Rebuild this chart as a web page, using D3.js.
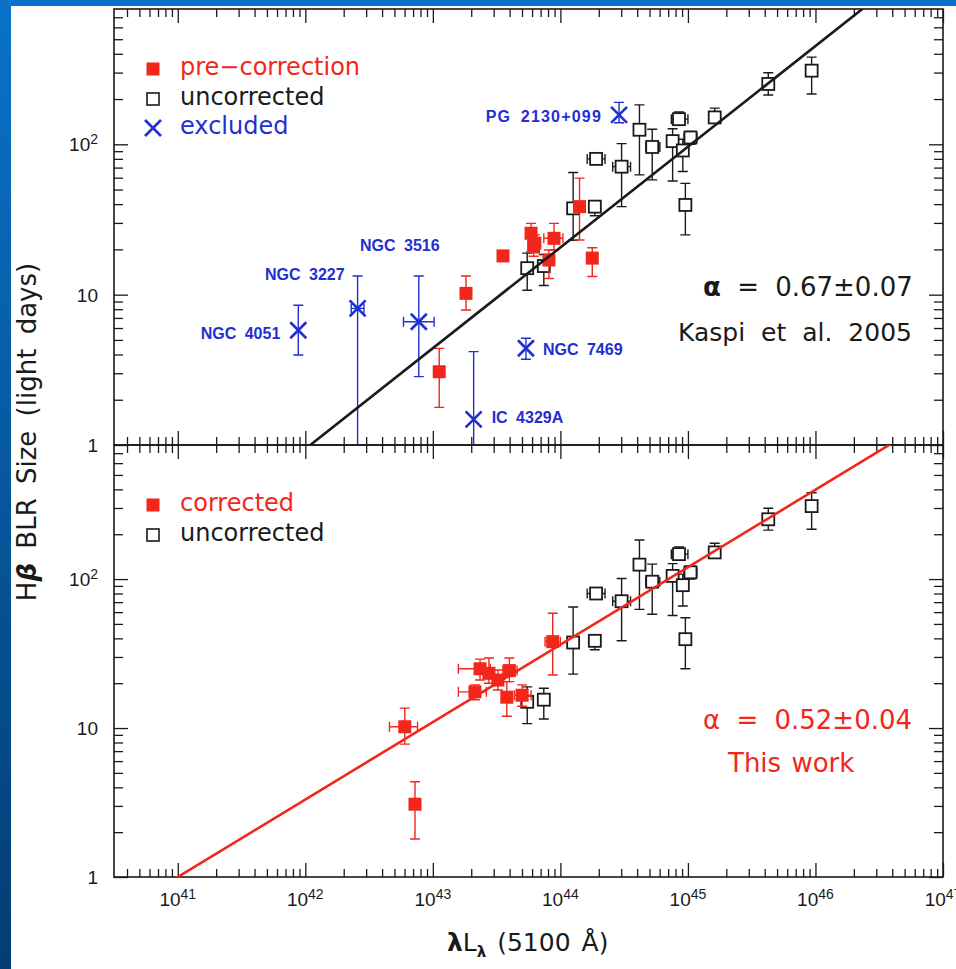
<!DOCTYPE html>
<html>
<head>
<meta charset="utf-8">
<script src="https://cdn.jsdelivr.net/npm/d3@7"></script>
<style>
  body { margin: 0; background: #fff; }
  svg text { font-family: "DejaVu Sans", sans-serif; }
</style>
</head>
<body>
<div id="chart"></div>
<script>
// rows: [log10 lambda L, R (light days), R low, R high, log L low, log L high]
const uncorrected = [
    [43.74, 15.0, 10.7, 18.9],
    [43.87, 15.5, 11.5, 18.5, 43.83, 43.91],
    [44.10, 37.5, 23.0, 65.0, 44.06, 44.13],
    [44.27, 38.5, 33.5, 41.0],
    [44.28, 80.0, 75.0, 85.0, 44.21, 44.35],
    [44.48, 71.0, 38.5, 101.0, 44.41, 44.55],
    [44.62, 125.0, 62.6, 183.0],
    [44.72, 96.0, 58.0, 126.0, 44.67, 44.78],
    [44.88, 105.0, 57.0, 127.0],
    [44.93, 147.0, 134.0, 164.0, 44.87, 45.00],
    [45.02, 111.0, 100.0, 122.0, 44.97, 45.07],
    [44.96, 91.0, 66.0, 108.0],
    [44.98, 39.5, 25.0, 55.0],
    [45.21, 151.0, 138.0, 174.0],
    [45.63, 252.0, 213.0, 299.0],
    [45.97, 309.0, 216.0, 380.0]
];

const preCorrection = [
    [43.05, 3.07, 1.78, 4.39],
    [43.26, 10.2, 7.9, 13.3],
    [43.55, 18.1, 17.0, 19.3],
    [43.77, 25.6, 19.3, 29.8],
    [43.80, 22.0, 19.0, 25.0],
    [43.79, 21.0, 18.0, 24.0],
    [43.95, 23.7, 19.8, 29.8, 43.87, 44.02],
    [43.91, 17.0, 12.8, 19.8],
    [44.15, 38.5, 23.1, 59.6],
    [44.25, 17.5, 13.2, 20.5]
];

const corrected = [
    [42.78, 10.2, 7.8, 13.6, 42.66, 42.88],
    [42.86, 3.08, 1.80, 4.36],
    [43.33, 17.5, 15.5, 19.5, 43.20, 43.42],
    [43.37, 25.0, 21.0, 29.0, 43.20, 43.45],
    [43.44, 23.3, 20.0, 29.5],
    [43.51, 21.0, 18.0, 24.5],
    [43.60, 24.3, 20.5, 29.5, 43.55, 43.66],
    [43.58, 16.1, 12.0, 20.5],
    [43.70, 16.6, 14.0, 19.5, 43.64, 43.77],
    [43.94, 38.0, 22.7, 58.9, 43.88, 44.00]
];

const excludedNames = ["NGC 4051", "NGC 3227", "NGC 3516", "IC 4329A", "NGC 7469", "PG 2130+099"];
const excluded = [
    [41.945, 5.8, 3.97, 8.5],
    [42.41, 8.1, 0.5, 13.3, 42.36, 42.46],
    [42.89, 6.6, 2.85, 13.3, 42.77, 43.01],
    [43.32, 1.48, 0.5, 4.18],
    [43.73, 4.4, 3.72, 5.13],
    [44.46, 157, 139, 190]
];

// R = R44 * (L / 1e44)^alpha
const fitAlpha = [0.67, 0.52];
const fitR44 = [20.6, 36.3];
const fitLabel = ["0.67±0.07", "0.52±0.04"];
const fitSource = ["Kaspi et al. 2005", "This work"];

const xTickExponents = [41, 42, 43, 44, 45, 46, 47];
const yTickValues = [1, 10, 100];

const width = 956, height = 969;
const left = 114, right = 943;
const red = "#f2261a", blue = "#1f2fd2", ink = "#1a1a1a";

const svg = d3.select("#chart").append("svg")
    .attr("width", width)
    .attr("height", height);

// slide background behind the figure
const grad = svg.append("defs").append("linearGradient")
    .attr("id", "slide").attr("x1", 0).attr("y1", 0).attr("x2", 0).attr("y2", 1);
grad.append("stop").attr("offset", 0).attr("stop-color", "#0a72c9");
grad.append("stop").attr("offset", 1).attr("stop-color", "#033d73");
svg.append("rect").attr("width", width).attr("height", height).attr("fill", "#fff");
svg.append("rect").attr("width", 11).attr("height", height).attr("fill", "url(#slide)");
svg.append("rect").attr("width", width).attr("height", 6).attr("fill", "#0a72c9");

const x = d3.scaleLog().domain([Math.pow(10, 40.5), 1e47]).range([left, right]);
const yMaxVal = Math.pow(10, 2.9);
const yTop = d3.scaleLog().domain([1, yMaxVal]).range([445, 9]);
const yBot = d3.scaleLog().domain([1, yMaxVal]).range([877, 445]);

const xMajor = xTickExponents.map(e => Math.pow(10, e));
const xMinor = [];
for (let e = 40; e < 47; e++) {
    for (let m = 2; m < 10; m++) {
        const v = m * Math.pow(10, e);
        if (v > x.domain()[0]) xMinor.push(v);
    }
}
const yMinor = [];
for (let e = 0; e < 3; e++) {
    for (let m = 2; m < 10; m++) {
        const v = m * Math.pow(10, e);
        if (v < yMaxVal) yMinor.push(v);
    }
}

function drawPanel(y, id) {
    const [bottom, top] = y.range();
    const g = svg.append("g");

    [[xMajor, 14], [xMinor, 8]].forEach(([vals, len]) => {
        g.append("g").attr("transform", `translate(0,${bottom})`)
            .call(d3.axisBottom(x).tickValues(vals).tickSize(-len).tickSizeOuter(0).tickFormat(""));
        g.append("g").attr("transform", `translate(0,${top})`)
            .call(d3.axisTop(x).tickValues(vals).tickSize(-len).tickSizeOuter(0).tickFormat(""));
    });
    [[yTickValues, 14], [yMinor, 9]].forEach(([vals, len]) => {
        g.append("g").attr("transform", `translate(${left},0)`)
            .call(d3.axisLeft(y).tickValues(vals).tickSize(-len).tickSizeOuter(0).tickFormat(""));
        g.append("g").attr("transform", `translate(${right},0)`)
            .call(d3.axisRight(y).tickValues(vals).tickSize(-len).tickSizeOuter(0).tickFormat(""));
    });
    g.selectAll(".domain").remove();
    g.selectAll(".tick line").attr("stroke", ink).attr("stroke-width", 1.3);

    g.append("rect")
        .attr("x", left).attr("y", top)
        .attr("width", right - left).attr("height", bottom - top)
        .attr("fill", "none").attr("stroke", ink).attr("stroke-width", 1.6);

    // y tick labels
    yTickValues.forEach(v => {
        const t = g.append("text")
            .attr("x", 98).attr("y", y(v) + 7)
            .attr("text-anchor", "end")
            .style("font-family", "'Liberation Sans', Arial, sans-serif")
            .style("font-size", "19px").attr("fill", ink);
        if (v === 100) {
            t.append("tspan").text("10");
            t.append("tspan").attr("dy", -7).style("font-size", "14px").text("2");
        } else {
            t.text(String(v));
        }
    });

    svg.append("clipPath").attr("id", id)
        .append("rect")
        .attr("x", left).attr("y", top)
        .attr("width", right - left).attr("height", bottom - top);

    return svg.append("g").attr("clip-path", `url(#${id})`);
}

function errorBars(g, rows, y, color) {
    const cap = 5;
    rows.forEach(d => {
        const cx = x(Math.pow(10, d[0])), cy = y(d[1]);
        const y0 = y(d[2]), y1 = y(d[3]);
        let p = `M${cx},${y0}V${y1}M${cx - cap},${y0}H${cx + cap}M${cx - cap},${y1}H${cx + cap}`;
        if (d.length > 4) {
            const x0 = x(Math.pow(10, d[4])), x1 = x(Math.pow(10, d[5]));
            p += `M${x0},${cy}H${x1}M${x0},${cy - cap}V${cy + cap}M${x1},${cy - cap}V${cy + cap}`;
        }
        g.append("path").attr("d", p)
            .attr("fill", "none").attr("stroke", color).attr("stroke-width", 1.4);
    });
}

function openSquares(g, rows, y) {
    g.selectAll(null).data(rows).join("rect")
        .attr("x", d => x(Math.pow(10, d[0])) - 6)
        .attr("y", d => y(d[1]) - 6)
        .attr("width", 12).attr("height", 12)
        .attr("fill", "#fff").attr("stroke", ink).attr("stroke-width", 1.8);
}

function filledSquares(g, rows, y) {
    g.selectAll(null).data(rows).join("rect")
        .attr("x", d => x(Math.pow(10, d[0])) - 6.5)
        .attr("y", d => y(d[1]) - 6.5)
        .attr("width", 13).attr("height", 13)
        .attr("fill", red);
}

function crossPath(cx, cy, s) {
    return `M${cx - s},${cy - s}L${cx + s},${cy + s}M${cx - s},${cy + s}L${cx + s},${cy - s}`;
}

function fitLine(g, y, i, color) {
    const line = d3.line()
        .x(L => x(L))
        .y(L => y(fitR44[i] * Math.pow(L / 1e44, fitAlpha[i])));
    g.append("path")
        .attr("d", line(x.domain()))
        .attr("fill", "none").attr("stroke", color).attr("stroke-width", 2.6);
}

// ---------- top panel: Kaspi et al. 2005 ----------
const gTop = drawPanel(yTop, "clipTop");
errorBars(gTop, uncorrected, yTop, ink);
openSquares(gTop, uncorrected, yTop);
errorBars(gTop, preCorrection, yTop, red);
filledSquares(gTop, preCorrection, yTop);
errorBars(gTop, excluded, yTop, blue);
gTop.selectAll(null).data(excluded).join("path")
    .attr("d", d => crossPath(x(Math.pow(10, d[0])), yTop(d[1]), 8))
    .attr("fill", "none").attr("stroke", blue).attr("stroke-width", 2.6);
fitLine(gTop, yTop, 0, ink);

// object names next to the excluded points
const nameOffsets = {
    "NGC 4051": [-18, 9, "end"],
    "NGC 3227": [-13, -28, "end"],
    "NGC 3516": [-19, -71, "middle"],
    "IC 4329A": [18, 4, "start"],
    "NGC 7469": [17, 7, "start"],
    "PG 2130+099": [-17, 7, "end"]
};
excluded.forEach((d, i) => {
    const o = nameOffsets[excludedNames[i]];
    svg.append("text")
        .attr("x", x(Math.pow(10, d[0])) + o[0])
        .attr("y", yTop(d[1]) + o[1])
        .attr("text-anchor", o[2])
        .style("font-family", "'Liberation Sans', Arial, sans-serif")
        .style("font-size", "16px").style("font-weight", "bold")
        .style("word-spacing", "4px")
        .style("letter-spacing", excludedNames[i].startsWith("PG") ? "1.2px" : "0px")
        .attr("fill", blue)
        .text(excludedNames[i]);
});

// ---------- bottom panel: this work ----------
const gBot = drawPanel(yBot, "clipBot");
errorBars(gBot, uncorrected, yBot, ink);
openSquares(gBot, uncorrected, yBot);
errorBars(gBot, corrected, yBot, red);
filledSquares(gBot, corrected, yBot);
fitLine(gBot, yBot, 1, red);

// ---------- legends ----------
function legendRow(cx, cy, kind, label, color) {
    if (kind === "filled") {
        svg.append("rect").attr("x", cx - 6.5).attr("y", cy - 6.5)
            .attr("width", 13).attr("height", 13).attr("fill", red);
    } else if (kind === "open") {
        svg.append("rect").attr("x", cx - 6).attr("y", cy - 6)
            .attr("width", 12).attr("height", 12)
            .attr("fill", "#fff").attr("stroke", ink).attr("stroke-width", 1.6);
    } else {
        svg.append("path").attr("d", crossPath(cx, cy, 8))
            .attr("stroke", blue).attr("stroke-width", 2.6);
    }
    svg.append("text")
        .attr("x", 180).attr("y", cy + 6)
        .style("font-size", "24px").attr("fill", color)
        .text(label);
}
legendRow(153, 69, "filled", "pre\u2212correction", red);
legendRow(153, 99, "open", "uncorrected", ink);
legendRow(153, 128, "cross", "excluded", blue);
legendRow(153, 505, "filled", "corrected", red);
legendRow(153, 535, "open", "uncorrected", ink);

// slope annotations
function slopeText(yBase, i, color, bold) {
    const t = svg.append("text")
        .attr("x", 703).attr("y", yBase)
        .style("font-size", "26px").style("word-spacing", "8px")
        .attr("fill", color);
    t.append("tspan").style("font-weight", bold ? "bold" : "normal").text("\u03b1");
    t.append("tspan").text(" = " + fitLabel[i]);
}
slopeText(296, 0, ink, true);
svg.append("text").attr("x", 678).attr("y", 341)
    .style("font-size", "25px").style("word-spacing", "8px")
    .attr("fill", ink).text(fitSource[0]);
slopeText(729, 1, red, false);
svg.append("text").attr("x", 728).attr("y", 772)
    .style("font-size", "26px").style("word-spacing", "2px")
    .attr("fill", red).text(fitSource[1]);

// x tick labels (the last one runs off the slide edge, as in the original)
xTickExponents.forEach(e => {
    const t = svg.append("text")
        .attr("x", x(Math.pow(10, e)))
        .attr("y", 906)
        .attr("text-anchor", "middle")
        .style("font-family", "'Liberation Sans', Arial, sans-serif")
        .style("font-size", "19px").attr("fill", ink);
    t.append("tspan").text("10");
    t.append("tspan").attr("dy", -7).style("font-size", "14px").text(String(e));
});

// axis titles
const xt = svg.append("text")
    .attr("x", 447).attr("y", 951)
    .style("font-size", "25px").attr("fill", ink);
xt.append("tspan").style("font-weight", "bold").text("\u03bb");
xt.append("tspan").text("L");
xt.append("tspan").attr("dy", 6).style("font-size", "15px").style("font-weight", "bold").text("\u03bb");
xt.append("tspan").attr("dy", -6).style("word-spacing", "3px").text(" (5100 \u00c5)");

const yt = svg.append("text")
    .attr("transform", "translate(36,432) rotate(-90)")
    .attr("text-anchor", "middle")
    .style("font-size", "26px").style("word-spacing", "6px")
    .attr("fill", ink);
yt.append("tspan").text("H");
yt.append("tspan").style("font-weight", "bold").style("font-style", "italic").text("\u03b2");
yt.append("tspan").text(" BLR Size (light days)");
</script>
</body>
</html>
